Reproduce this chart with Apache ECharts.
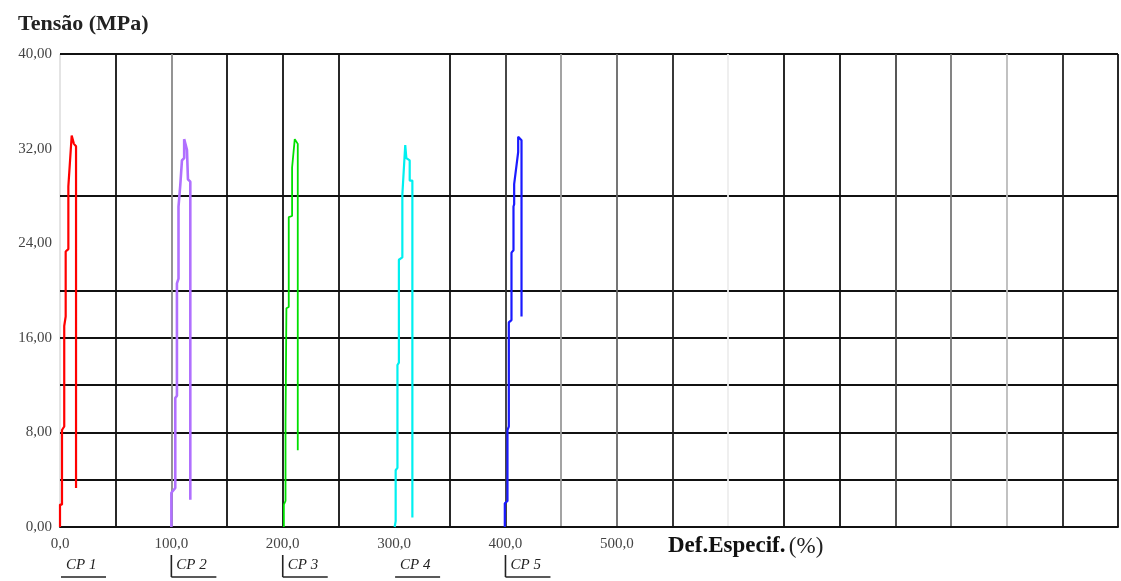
<!DOCTYPE html>
<html><head><meta charset="utf-8">
<script src="https://cdn.jsdelivr.net/npm/echarts@6/dist/echarts.min.js"></script>
<style>html,body{margin:0;padding:0;background:#fff}#c{width:1121px;height:581px}</style>
</head><body><div id="c"></div>
<script>
// ---- data ----
var seriesNames = ['CP 1','CP 2','CP 3','CP 4','CP 5'];
var seriesColors = ['#ff0000','#b070ff','#00e000','#00f0f0','#1a1aff'];
var cp1 = [[0,0],[0,1.9],[1.8,1.9],[1.8,8.2],[3.8,8.5],[3.8,17.0],[5.1,17.8],[5.1,23.3],[7.5,23.5],[7.5,28.8],[10.5,33.1],[12,33.2],[12.5,32.4],[14.4,32.2],[14.4,3.3]];
var cp2 = [[100,0],[100,2.9],[103.5,3.3],[103.5,10.9],[105,11.1],[105,20.6],[106.4,21],[106.4,27.1],[108,28.9],[109.5,29],[109.5,31],[111.5,31.2],[111.5,32.8],[113,32.8],[114,31.9],[114.9,31.9],[114.9,29.4],[117,29.2],[117,2.3]];
var cp3 = [[201,0],[201,1.9],[202.5,2.2],[202.5,8.8],[203.3,8.9],[203.3,18.5],[205.4,18.6],[205.4,26.2],[208.4,26.3],[208.4,30.4],[210.8,32.8],[212,32.8],[213.5,32.4],[213.5,6.5]];
var cp4 = [[300.5,0],[301.4,0.5],[301.4,4.8],[303,5.0],[303,13.7],[304.3,13.9],[304.3,22.6],[307.4,22.8],[307.4,28.1],[310,32.3],[311,32.3],[311,31.2],[314,31],[314,29.3],[316.4,29.3],[316.4,0.8]];
var cp5 = [[399.4,0],[399.4,2],[401.8,2.2],[401.8,8.2],[403,8.5],[403,17.3],[405.4,17.5],[405.4,23.2],[407.2,23.4],[407.2,27.1],[407.8,27.3],[407.8,29],[411.4,31.7],[411.4,33],[413,33],[414.4,32.7],[414.4,17.8]];
var seriesData = [cp1,cp2,cp3,cp4,cp5];
var xTickValues = [0,100,200,300,400,500];
var xTickLabels = ['0,0','100,0','200,0','300,0','400,0','500,0'];
var yTickValues = [0,8,16,24,32,40];
var yTickLabels = ['0,00','8,00','16,00','24,00','32,00','40,00'];
var legendX = [0,100,200,300,400];
var legendBar = [false,true,true,false,true];
// ---- styles ----
var xGridColors = ['rgba(0,0,0,0.12)','#111','#888','#111','#111','#111','rgba(0,0,0,0)','#111','#333','#999','#666','#222','#eee','#111','#111','#444','#777','#bbb','#222','#111'];
var yGridColors = ['#111','#111','#111','#111','#111','#111','rgba(0,0,0,0)','#111','rgba(0,0,0,0)','rgba(0,0,0,0)','#111'];
var widths = [2.2,2.6,1.8,2.2,2.2];

var chart = echarts.init(document.getElementById('c'));
var serif = '"Liberation Serif","DejaVu Serif",serif';
var option = {
  animation:false,
  backgroundColor:'#fff',
  title:{text:'Tensão (MPa)',left:13,top:8,textStyle:{fontFamily:serif,fontWeight:'bold',fontSize:22,color:'#222'}},
  grid:{left:60,top:54,right:3,bottom:54},
  xAxis:{type:'value',min:0,max:950,interval:50,
    axisLine:{show:true,onZero:false,lineStyle:{color:'#111',width:2}},
    axisTick:{show:false},
    axisLabel:{margin:10,fontFamily:serif,fontSize:15,color:'#444',
      formatter:function(v){var i=xTickValues.indexOf(v);return i>=0?xTickLabels[i]:'';}},
    splitLine:{show:true,lineStyle:{color:xGridColors,width:1.8}}},
  yAxis:{type:'value',min:0,max:40,interval:4,
    axisLine:{show:false},axisTick:{show:false},
    axisLabel:{margin:8,fontFamily:serif,fontSize:15,color:'#444',
      formatter:function(v){var i=yTickValues.indexOf(v);return i>=0?yTickLabels[i]:'';}},
    splitLine:{show:true,lineStyle:{color:yGridColors,width:1.8}}},
  series: seriesData.map(function(d,i){return {name:seriesNames[i],type:'line',data:d,showSymbol:false,
    lineStyle:{color:seriesColors[i],width:widths[i]},itemStyle:{color:seriesColors[i]}};})
};
chart.setOption(option);

var g = [];
g.push({type:'text',left:668,top:535,style:{text:'{b|Def.Especif.} {n|(%)}',rich:{
  b:{fontFamily:serif,fontWeight:'bold',fontSize:23,fill:'#111'},
  n:{fontFamily:serif,fontSize:23,fill:'#222'}}}});
legendX.forEach(function(x,i){
  var px = chart.convertToPixel({xAxisIndex:0},x);
  var start = legendBar[i] ? px : px+1;
  g.push({type:'text',x:start+5,y:558,style:{text:seriesNames[i],fontFamily:serif,fontStyle:'italic',fontSize:15,fill:'#222'}});
  g.push({type:'line',shape:{x1:start,y1:577,x2:start+45,y2:577},style:{stroke:'#222',lineWidth:1.6}});
  if(legendBar[i]) g.push({type:'line',shape:{x1:start,y1:555,x2:start,y2:577},style:{stroke:'#222',lineWidth:1.6}});
});
chart.setOption({graphic:g});
</script></body></html>
